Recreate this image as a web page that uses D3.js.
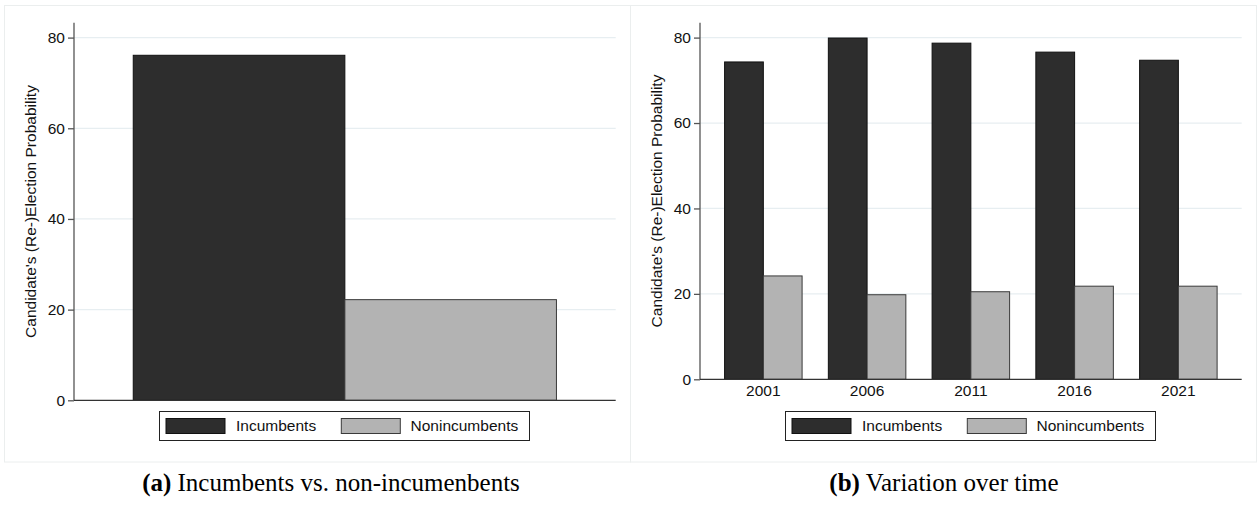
<!DOCTYPE html>
<html>
<head>
<meta charset="utf-8">
<script src="https://cdn.jsdelivr.net/npm/d3@7"></script>
<style>
  html, body { margin: 0; padding: 0; background: #fff; }
  svg { display: block; }
</style>
</head>
<body>
<svg id="chart" width="1259" height="505"></svg>
<script>
// ---- Data ----
const seriesNames = ["Incumbents", "Nonincumbents"];
const seriesColors = ["#2d2d2d", "#b3b3b3"];

// Panel (a): pooled
const pooledCategories = ["All"];
const pooledIncumbents = [76.1];
const pooledNonincumbents = [22.2];

// Panel (b): by election year
const years = ["2001", "2006", "2011", "2016", "2021"];
const yearIncumbents = [74.3, 79.9, 78.7, 76.6, 74.7];
const yearNonincumbents = [24.2, 19.8, 20.5, 21.8, 21.8];

const yTicks = [0, 20, 40, 60, 80];
const yTitle = "Candidate's (Re-)Election Probability";
const captions = [
  { label: "(a)", text: " Incumbents vs. non-incumenbents" },
  { label: "(b)", text: " Variation over time" }
];

// ---- Drawing ----
const svg = d3.select("#chart");
const FONT = "'Liberation Sans', Arial, Helvetica, sans-serif";

function drawPanel(cfg) {
  const g = svg.append("g").attr("transform", `translate(${cfg.dx},0)`);

  // panel frame
  g.append("rect")
    .attr("x", cfg.frame[0]).attr("y", 5.5)
    .attr("width", cfg.frame[1] - cfg.frame[0]).attr("height", 456.5)
    .attr("fill", "none").attr("stroke", "#ebeeee").attr("stroke-width", 1);

  const x0 = 74, x1 = 615.7, yTop = 22.7;
  const y = d3.scaleLinear().domain([0, 80]).range([cfg.yZero, 37.6]);

  // gridlines
  g.append("g").selectAll("line").data(yTicks.filter(d => d > 0)).join("line")
    .attr("x1", x0).attr("x2", x1)
    .attr("y1", d => y(d)).attr("y2", d => y(d))
    .attr("stroke", "#e7eef1").attr("stroke-width", 1.2);

  const xb = d3.scaleBand().domain(cfg.categories).range([x0, x1])
    .paddingInner(cfg.pi).paddingOuter(cfg.po);
  const xs = d3.scaleBand().domain(seriesNames).range([0, xb.bandwidth()]).padding(0);

  const rows = cfg.categories.map((c, i) => ({ c, vals: [cfg.inc[i], cfg.non[i]] }));
  const grp = g.append("g").selectAll("g").data(rows).join("g")
    .attr("transform", d => `translate(${xb(d.c)},0)`);
  grp.selectAll("rect").data(d => d.vals.map((v, k) => ({ v, k }))).join("rect")
    .attr("x", d => xs(seriesNames[d.k]))
    .attr("width", xs.bandwidth())
    .attr("y", d => y(d.v))
    .attr("height", d => y(0) - y(d.v))
    .attr("fill", d => seriesColors[d.k])
    .attr("stroke", d => d.k === 0 ? "#111" : "#3a3a3a")
    .attr("stroke-width", 1);

  // y axis
  const ya = g.append("g").attr("transform", `translate(${x0},0)`)
    .call(d3.axisLeft(y).tickValues(yTicks).tickSize(6).tickPadding(3).tickFormat(d3.format("d")));
  ya.select(".domain").remove();
  ya.append("line").attr("x1", 0).attr("x2", 0).attr("y1", yTop).attr("y2", cfg.yZero)
    .attr("stroke", "#555").attr("stroke-width", 1.3);
  ya.selectAll(".tick line").attr("stroke", "#555").attr("stroke-width", 1.3);
  ya.selectAll(".tick text").attr("fill", "#111").style("font-family", FONT).style("font-size", "15.5px");

  // x axis
  const xa = g.append("g").attr("transform", `translate(0,${cfg.yZero})`)
    .call(d3.axisBottom(xb).tickSize(0).tickPadding(6));
  xa.select(".domain").remove();
  xa.append("line").attr("x1", x0).attr("x2", x1).attr("y1", 0).attr("y2", 0)
    .attr("stroke", "#333").attr("stroke-width", 1.3);
  xa.selectAll(".tick text").attr("fill", "#111").style("font-family", FONT).style("font-size", "15.5px")
    .style("display", cfg.showXLabels ? null : "none");

  // y title
  g.append("text")
    .attr("transform", `translate(35.5,${(yTop + cfg.yZero) / 2}) rotate(-90)`)
    .attr("text-anchor", "middle")
    .style("font-family", FONT).style("font-size", "15.5px").attr("fill", "#111")
    .text(yTitle);

  // legend
  const lg = g.append("g");
  lg.append("rect").attr("x", 159.5).attr("y", 411.5).attr("width", 370).attr("height", 29)
    .attr("fill", "#fff").attr("stroke", "#222").attr("stroke-width", 1);
  const items = [{ sx: 166, tx: 236 }, { sx: 341.3, tx: 410.5 }];
  items.forEach((it, k) => {
    lg.append("rect").attr("x", it.sx).attr("y", 418.5).attr("width", 59).attr("height", 15)
      .attr("fill", seriesColors[k]).attr("stroke", k === 0 ? "#111" : "#3a3a3a").attr("stroke-width", 1);
    lg.append("text").attr("x", it.tx).attr("y", 431)
      .style("font-family", FONT).style("font-size", "15.5px").attr("fill", "#111")
      .text(seriesNames[k]);
  });
}

drawPanel({ dx: 0, frame: [4.5, 630.5], yZero: 400.3, categories: pooledCategories,
  inc: pooledIncumbents, non: pooledNonincumbents, pi: 0, po: 0.14, showXLabels: false });
drawPanel({ dx: 626, frame: [4.5, 630.5], yZero: 379.3, categories: years,
  inc: yearIncumbents, non: yearNonincumbents, pi: 0.253, po: 0.237, showXLabels: true });

// captions
const capX = [331, 944];
captions.forEach((c, i) => {
  const t = svg.append("text").attr("x", capX[i]).attr("y", 491)
    .attr("text-anchor", "middle")
    .style("font-family", "'Liberation Serif', 'Times New Roman', serif")
    .style("font-size", "25px").attr("fill", "#000");
  t.append("tspan").style("font-weight", "bold").text(c.label);
  t.append("tspan").text(c.text);
});
</script>
</body>
</html>
